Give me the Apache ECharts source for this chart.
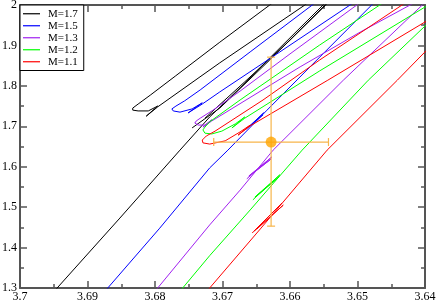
<!DOCTYPE html>
<html>
<head>
<meta charset="utf-8">
<script src="https://cdn.jsdelivr.net/npm/echarts@6/dist/echarts.min.js"></script>
<style>html,body{margin:0;padding:0;background:#fff}#c{width:436px;height:302px}</style>
</head>
<body>
<div id="c"></div>
<script>
// log Teff (x, reversed) vs log L (y); null separates strands of one track
const trackNames = ['M=1.7', 'M=1.5', 'M=1.3', 'M=1.2', 'M=1.1'];
const xTicks = [3.7, 3.69, 3.68, 3.67, 3.66, 3.65, 3.64];
const yTicks = [1.3, 1.4, 1.5, 1.6, 1.7, 1.8, 1.9, 2.0];

const m17 = [
  [3.6956,1.278],[3.6945,1.300],[3.6852,1.473],[3.6763,1.641],[3.6719,1.723],[3.6674,1.795],[3.6630,1.869],[3.6551,2.000],[3.6536,2.025],
  null,
  [3.6609,2.025],[3.6630,2.000],[3.6704,1.908],[3.6770,1.824],[3.6807,1.777],[3.6825,1.755],[3.6833,1.745],[3.6833,1.740],[3.6825,1.738],[3.6810,1.738],[3.6796,1.750],[3.6813,1.725],[3.6796,1.748],[3.6704,1.857],[3.6578,2.000],[3.6556,2.027],
  null,
  [3.6745,1.696],[3.6704,1.745],[3.6630,1.864],[3.6551,1.995],[3.6541,2.012],
  null,
  [3.6726,1.720],[3.6667,1.810],[3.6600,1.913],[3.6547,2.000],[3.6536,2.017]
];
const m15 = [
  [3.6881,1.278],[3.6870,1.300],[3.6793,1.448],[3.6719,1.597],[3.6692,1.641],[3.6634,1.740],[3.6556,1.871],[3.6479,2.000],[3.6464,2.025],
  null,
  [3.6548,2.025],[3.6567,2.000],[3.6659,1.884],[3.6733,1.790],[3.6756,1.763],[3.6769,1.750],[3.6775,1.743],[3.6773,1.738],[3.6763,1.735],[3.6745,1.743],[3.6730,1.758],[3.6751,1.733],[3.6730,1.755],[3.6704,1.785],[3.6615,1.884],[3.6511,2.000],[3.6489,2.025],
  null,
  [3.6665,1.693],[3.6639,1.733],[3.6661,1.698],[3.6640,1.728]
];
const m13 = [
  [3.6807,1.278],[3.6796,1.300],[3.6719,1.456],[3.6674,1.542],[3.6625,1.641],[3.6521,1.814],[3.6404,2.000],[3.6390,2.025],
  null,
  [3.6486,2.025],[3.6501,2.000],[3.6600,1.879],[3.6674,1.787],[3.6714,1.740],[3.6733,1.720],[3.6739,1.713],[3.6741,1.708],[3.6736,1.703],[3.6726,1.703],[3.6716,1.716],[3.6729,1.698],[3.6716,1.713],[3.6585,1.847],[3.6496,1.933],[3.6400,2.020],[3.6385,2.030],
  null,
  [3.6664,1.570],[3.6627,1.624],[3.6661,1.577],[3.6628,1.619],[3.6656,1.582]
];
const m12 = [
  [3.6769,1.278],[3.6759,1.300],[3.6719,1.380],[3.6659,1.493],[3.6582,1.641],[3.6484,1.814],[3.6400,1.948],[3.6385,1.973],
  null,
  [3.6447,2.025],[3.6467,2.000],[3.6556,1.901],[3.6674,1.765],[3.6719,1.711],[3.6726,1.698],[3.6729,1.691],[3.6726,1.683],[3.6716,1.681],[3.6701,1.688],[3.6681,1.706],[3.6667,1.723],[3.6686,1.696],[3.6667,1.720],[3.6556,1.837],[3.6400,1.995],[3.6378,2.017],
  null,
  [3.6655,1.518],[3.6615,1.580],[3.6652,1.525],[3.6616,1.575],[3.6649,1.528]
];
const m11 = [
  [3.6729,1.278],[3.6719,1.300],[3.6644,1.446],[3.6545,1.641],[3.6441,1.814],[3.6400,1.884],[3.6378,1.921],
  null,
  [3.6415,2.025],[3.6434,2.000],[3.6556,1.864],[3.6640,1.765],[3.6711,1.688],[3.6724,1.676],[3.6730,1.666],[3.6729,1.659],[3.6719,1.656],[3.6696,1.664],[3.6674,1.686],[3.6659,1.703],[3.6677,1.678],[3.6659,1.701],[3.6544,1.814],[3.6400,1.958],[3.6378,1.980],
  null,
  [3.6656,1.436],[3.6612,1.510],[3.6653,1.441],[3.6610,1.505],[3.6649,1.446]
];
// observed star: [x, y, xLow, xHigh, yLow, yHigh]
const star = [[3.6628, 1.661, 3.6543, 3.6713, 1.453, 1.871]];

const tracks = [m17, m15, m13, m12, m11];
const colors = ['#000000', '#0000ff', '#a020f0', '#00ff00', '#ff0000'];
const serif = 'Liberation Serif, Times New Roman, DejaVu Serif, serif';
const frame = '#555555';
const fmt = v => String(parseFloat(v.toFixed(3)));

function xAx(pos, labels) {
  return {
    type: 'value', position: pos, inverse: true, min: 3.64, max: 3.7, interval: 0.01,
    axisLine: {show: true, onZero: false, lineStyle: {color: frame, width: 2}},
    axisTick: {show: true, inside: true, length: 7, lineStyle: {color: frame, width: 1.5}},
    minorTick: {show: true, splitNumber: 2, length: 4, lineStyle: {color: frame, width: 1.5}},
    splitLine: {show: false},
    axisLabel: {show: labels, margin: 3, color: '#000', fontFamily: serif, fontSize: 12,
      formatter: fmt, showMinLabel: true, showMaxLabel: true}
  };
}
function yAx(pos, labels) {
  return {
    type: 'value', position: pos, min: 1.3, max: 2.0, interval: 0.1,
    axisLine: {show: true, onZero: false, lineStyle: {color: frame, width: 2}},
    axisTick: {show: true, inside: true, length: 7, lineStyle: {color: frame, width: 1.5}},
    minorTick: {show: true, splitNumber: 2, length: 4, lineStyle: {color: frame, width: 1.5}},
    splitLine: {show: false},
    axisLabel: {show: labels, margin: 3, color: '#000', fontFamily: serif, fontSize: 12,
      formatter: fmt, showMinLabel: true, showMaxLabel: true}
  };
}

const series = tracks.map((d, i) => ({
  name: trackNames[i], type: 'line', data: d, xAxisIndex: 0, yAxisIndex: 0,
  symbol: 'none', showSymbol: false, connectNulls: false, clip: true,
  lineStyle: {color: colors[i], width: 1}, itemStyle: {color: colors[i]},
  z: 2
}));

series.push({
  type: 'custom', name: 'obs-err', data: star, clip: false, z: 3,
  renderItem: function (params, api) {
    const x = api.value(0), y = api.value(1);
    const xl = api.coord([api.value(2), y]), xh = api.coord([api.value(3), y]);
    const yl = api.coord([x, api.value(4)]), yh = api.coord([x, api.value(5)]);
    const st = {stroke: '#f7b54a', lineWidth: 1.2};
    const cap = 4;
    const L = (a, b, c, d) => ({type: 'line', shape: {x1: a, y1: b, x2: c, y2: d}, style: st});
    return {type: 'group', children: [
      L(xl[0], xl[1], xh[0], xh[1]),
      L(xl[0], xl[1] - cap, xl[0], xl[1] + cap),
      L(xh[0], xh[1] - cap, xh[0], xh[1] + cap),
      L(yl[0], yl[1], yh[0], yh[1]),
      L(yl[0] - cap, yl[1], yl[0] + cap, yl[1]),
      L(yh[0] - cap, yh[1], yh[0] + cap, yh[1])
    ]};
  }
});
series.push({
  type: 'scatter', name: 'obs', data: star.map(s => [s[0], s[1]]),
  symbol: 'circle', symbolSize: 11, itemStyle: {color: '#ffa500'}, z: 4
});

const chart = echarts.init(document.getElementById('c'), null, {renderer: 'canvas'});
chart.setOption({
  animation: false,
  backgroundColor: '#ffffff',
  grid: {left: 20, right: 11, top: 5, bottom: 14, containLabel: false, outerBoundsMode: 'none'},
  xAxis: [xAx('bottom', true), xAx('top', false)],
  yAxis: [yAx('left', true), yAx('right', false)],
  legend: {
    data: trackNames.map((n, i) => ({name: n, icon: 'rect', itemStyle: {color: colors[i]}})),
    orient: 'vertical', left: 20, top: 5,
    padding: [3, 6, 3, 3], itemWidth: 17, itemHeight: 1.2, itemGap: 0.5,
    backgroundColor: '#ffffff', borderColor: '#000000', borderWidth: 1,
    textStyle: {fontFamily: serif, fontSize: 11, lineHeight: 11.5, color: '#000', padding: [0, 0, 0, 3]},
    z: 10
  },
  series: series
});
</script>
</body>
</html>
